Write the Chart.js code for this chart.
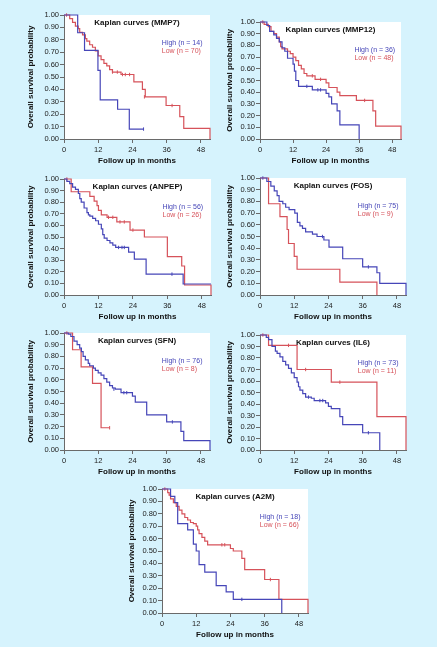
<!DOCTYPE html>
<html>
<head>
<meta charset="utf-8">
<script src="https://cdn.jsdelivr.net/npm/chart.js@4"></script>
<style>
body{margin:0;background:#d6f3fd;width:437px;height:647px;position:relative;overflow:hidden}
canvas{position:absolute}
</style>
</head>
<body>
<script>
// tick labels
const xTicks = [0, 12, 24, 36, 48];
const yTicks = [0, 0.1, 0.2, 0.3, 0.4, 0.5, 0.6, 0.7, 0.8, 0.9, 1];
const xMax = 51.2;

const genes = ["MMP7", "MMP12", "ANPEP", "FOS", "SFN", "IL6", "A2M"];
const highN = [14, 36, 56, 75, 76, 73, 18];
const lowN = [70, 48, 26, 9, 8, 11, 66];

// survival curves: [month, survival after the event]
const mmp7High = [[0,1],[4.8,0.857],[7.2,0.714],[11.9,0.554],[12.7,0.315],[18.8,0.24],[22.9,0.08],[27.9,0.08]];
const mmp7HighCens = [[27.9,0.08]];
const mmp7Low = [[0,1],[2,0.97],[3,0.94],[4,0.91],[5,0.89],[5.5,0.86],[6.5,0.84],[7.5,0.81],[8,0.79],[9,0.76],[10,0.74],[11,0.71],[12,0.67],[13,0.64],[14,0.61],[15,0.59],[16,0.56],[17,0.54],[20,0.52],[24.5,0.46],[27.5,0.40],[28.5,0.34],[35.8,0.27],[40.6,0.18],[42,0.085],[51.2,0]];
const mmp7LowCens = [[0.9,1],[17,0.54],[18.7,0.54],[20.5,0.52],[21.5,0.52],[23,0.52],[28.2,0.34],[37.9,0.27]];

const mmp12High = [[0,1],[2.5,0.97],[3.5,0.92],[5,0.89],[6,0.86],[7,0.83],[8,0.78],[9,0.75],[10,0.69],[12,0.64],[12.5,0.58],[13,0.5],[14,0.45],[19,0.42],[24,0.39],[25,0.36],[26,0.30],[28,0.24],[29,0.12],[36,0]];
const mmp12HighCens = [[17,0.45],[21,0.42],[22,0.42]];
const mmp12Low = [[0,1],[1.5,0.98],[3,0.96],[4,0.92],[5,0.9],[6,0.87],[7,0.83],[7.5,0.79],[8,0.77],[10,0.75],[11,0.73],[12,0.70],[13,0.67],[14,0.63],[15,0.60],[16,0.56],[17,0.54],[20,0.51],[24,0.48],[25,0.44],[28,0.40],[29,0.37],[35,0.33],[41,0.24],[42,0.11],[51.2,0]];
const mmp12LowCens = [[1,1],[19,0.54],[22,0.51],[38,0.33]];

const anpepHigh = [[0,1],[1,0.98],[2,0.96],[3,0.93],[4,0.91],[5,0.875],[5.5,0.83],[6,0.80],[7,0.75],[8,0.71],[8.5,0.69],[9,0.68],[10,0.66],[11,0.64],[12,0.61],[13,0.57],[13.5,0.52],[14,0.49],[15,0.47],[16,0.45],[17,0.43],[18,0.41],[22.5,0.37],[24.5,0.31],[28.6,0.18],[41.5,0.095],[51.2,0.095]];
const anpepHighCens = [[19,0.41],[20.2,0.41],[21,0.41],[37.6,0.18]];
const anpepLow = [[0,1],[2.5,0.89],[9,0.85],[10.5,0.81],[11.5,0.77],[12,0.73],[13,0.69],[15,0.67],[18.4,0.63],[23,0.56],[28,0.50],[36,0.33],[41,0.25],[42,0.086],[51.2,0]];
const anpepLowCens = [[1,1],[15.5,0.67],[17,0.67],[19.5,0.63],[21,0.63],[24,0.56]];

const fosHigh = [[0,1],[2.4,0.97],[3.8,0.93],[5,0.89],[6,0.85],[6.7,0.80],[8,0.78],[9,0.75],[10.2,0.73],[12.2,0.70],[13.1,0.62],[14,0.59],[14.9,0.57],[16,0.54],[18.4,0.52],[20,0.50],[22.4,0.47],[24.2,0.41],[29,0.31],[36,0.24],[41,0.19],[42,0.10],[51.2,0]];
const fosHighCens = [[1,1],[21.9,0.50],[38,0.24]];
const fosLow = [[0,1],[3,0.78],[7,0.67],[9.5,0.56],[10,0.44],[12,0.33],[13,0.22],[28,0.11],[41,0]];
const fosLowCens = [];

const sfnHigh = [[0,1],[1.5,0.99],[2.4,0.97],[3.5,0.93],[4.6,0.90],[5.5,0.87],[6.1,0.84],[6.7,0.80],[7.5,0.77],[8.5,0.74],[9,0.72],[10.3,0.70],[11,0.68],[12,0.66],[13,0.64],[14,0.61],[15,0.58],[16,0.55],[17,0.53],[18,0.52],[20,0.49],[24,0.46],[25,0.41],[29,0.30],[36,0.24],[41,0.16],[42,0.08],[51.2,0]];
const sfnHighCens = [[17.5,0.52],[21,0.49],[22,0.49],[38,0.24]];
const sfnLow = [[0,1],[3,0.857],[6,0.71],[10,0.57],[13,0.19],[16,0.19]];
const sfnLowCens = [[1,1],[16,0.19]];

const il6High = [[0,1],[2.2,0.98],[3,0.96],[4.2,0.90],[5.4,0.86],[6,0.84],[7,0.81],[8,0.77],[9,0.74],[10,0.71],[11,0.67],[12,0.63],[13,0.59],[13.5,0.55],[14,0.52],[15,0.49],[16,0.46],[18,0.45],[19,0.43],[23,0.41],[24,0.38],[25,0.36],[28,0.29],[29,0.22],[36,0.15],[42,0]];
const il6HighCens = [[17,0.46],[21,0.43],[22,0.43],[38,0.15]];
const il6Low = [[0,1],[3,0.91],[13,0.70],[25,0.59],[41,0.29],[51.2,0]];
const il6LowCens = [[1,1],[10,0.91],[16,0.70],[28,0.59]];

const a2mHigh = [[0,1],[3,0.94],[4.5,0.89],[5.5,0.72],[9,0.67],[11,0.555],[12,0.50],[13,0.39],[15,0.33],[19,0.22],[22.5,0.17],[25,0.11],[42,0]];
const a2mHighCens = [[28,0.11]];
const a2mLow = [[0,1],[2,0.97],[2.5,0.95],[3,0.92],[4,0.89],[5,0.86],[6,0.83],[7,0.80],[8,0.77],[9,0.75],[10,0.73],[11,0.72],[12,0.70],[12.5,0.67],[13,0.64],[14,0.61],[15,0.58],[16,0.55],[24,0.52],[25,0.50],[28,0.44],[29,0.35],[36,0.27],[41,0.11],[51.2,0]];
const a2mLowCens = [[1,1],[21,0.55],[22,0.55],[38,0.27]];

const highCurves = [mmp7High, mmp12High, anpepHigh, fosHigh, sfnHigh, il6High, a2mHigh];
const highCens = [mmp7HighCens, mmp12HighCens, anpepHighCens, fosHighCens, sfnHighCens, il6HighCens, a2mHighCens];
const lowCurves = [mmp7Low, mmp12Low, anpepLow, fosLow, sfnLow, il6Low, a2mLow];
const lowCens = [mmp7LowCens, mmp12LowCens, anpepLowCens, fosLowCens, sfnLowCens, il6LowCens, a2mLowCens];

// plot area of each panel on the page
const boxes = [
  {L:64, T:15, R:211, B:139, yw:40},
  {L:260, T:22, R:402, B:139, yw:37},
  {L:64, T:179, R:212, B:295, yw:40},
  {L:260, T:178, R:407, B:295, yw:37},
  {L:64, T:333, R:211, B:450, yw:40},
  {L:260, T:335, R:407, B:450, yw:37},
  {L:162, T:489, R:309, B:613, yw:37}
];

const BLUE = "#4646b8";
const RED = "#d6525a";
const AXIS = "#6a6a6a";
const FONT = "'Liberation Sans', Arial, sans-serif";

const panelText = {
  id: "panelText",
  beforeDraw(chart) {
    const {ctx, chartArea: a} = chart;
    ctx.save();
    ctx.fillStyle = "#fff";
    ctx.fillRect(a.left, a.top, a.width, a.height);
    ctx.restore();
  },
  afterDatasetsDraw(chart, args, opts) {
    const {ctx, chartArea: a} = chart;
    ctx.save();
    ctx.textBaseline = "middle";
    ctx.font = "bold 8px " + FONT;
    ctx.textAlign = "center";
    ctx.fillStyle = "#111";
    ctx.fillText("Kaplan curves (" + opts.gene + ")", a.left + a.width * 0.5, a.top + 7.5);
    ctx.font = "7px " + FONT;
    ctx.textAlign = "left";
    ctx.fillStyle = BLUE;
    ctx.fillText("High (n = " + opts.high + ")", a.left + a.width * 0.67, a.top + 28);
    ctx.fillStyle = RED;
    ctx.fillText("Low (n = " + opts.low + ")", a.left + a.width * 0.67, a.top + 36);
    ctx.restore();
  }
};

function curve(data, color) {
  return {data: data, stepped: true, borderColor: color, borderWidth: 1.2,
    pointRadius: 0, fill: false, clip: false};
}
function censor(data, color) {
  return {data: data, showLine: false, pointStyle: "line", rotation: 90,
    pointRadius: 1.7, borderColor: color, borderWidth: 1, clip: false};
}

genes.forEach((gene, i) => {
  const b = boxes[i];
  const cv = document.createElement("canvas");
  cv.width = b.R - b.L + b.yw + 4;
  cv.height = b.B - b.T + 8 + 28;
  cv.style.left = (b.L - b.yw) + "px";
  cv.style.top = (b.T - 8) + "px";
  document.body.appendChild(cv);

  new Chart(cv, {
    type: "line",
    data: {
      datasets: [
        curve(highCurves[i], BLUE),
        curve(lowCurves[i], RED),
        censor(highCens[i], BLUE),
        censor(lowCens[i], RED)
      ]
    },
    options: {
      responsive: false,
      animation: false,
      devicePixelRatio: 1,
      layout: {padding: {top: 8, right: 4, left: 0, bottom: 0}},
      plugins: {
        legend: {display: false},
        tooltip: {enabled: false},
        panelText: {gene: gene, high: highN[i], low: lowN[i]}
      },
      scales: {
        x: {
          type: "linear", min: 0, max: xMax,
          afterBuildTicks: s => { s.ticks = xTicks.map(v => ({value: v})); },
          afterFit: s => { s.height = 28; },
          grid: {drawOnChartArea: false, tickLength: 4, color: AXIS},
          border: {color: AXIS},
          ticks: {font: {size: 7.5, family: FONT}, color: "#222", padding: 2, maxRotation: 0, autoSkip: false},
          title: {display: true, text: "Follow up in months", color: "#111",
            font: {size: 8, weight: "bold", family: FONT}, padding: {top: 0, bottom: 1.5}}
        },
        y: {
          min: 0, max: 1,
          afterBuildTicks: s => { s.ticks = yTicks.map(v => ({value: v})); },
          afterFit: s => { s.width = b.yw; },
          grid: {drawOnChartArea: false, tickLength: 4, color: AXIS},
          border: {color: AXIS},
          ticks: {font: {size: 7.5, family: FONT}, color: "#222", padding: 1, autoSkip: false,
            callback: v => Number(v).toFixed(2)},
          title: {display: true, text: "Overall survival probability", color: "#111",
            font: {size: 8, weight: "bold", family: FONT}, padding: {top: 2, bottom: 0}}
        }
      }
    },
    plugins: [panelText]
  });
});
</script>
</body>
</html>
